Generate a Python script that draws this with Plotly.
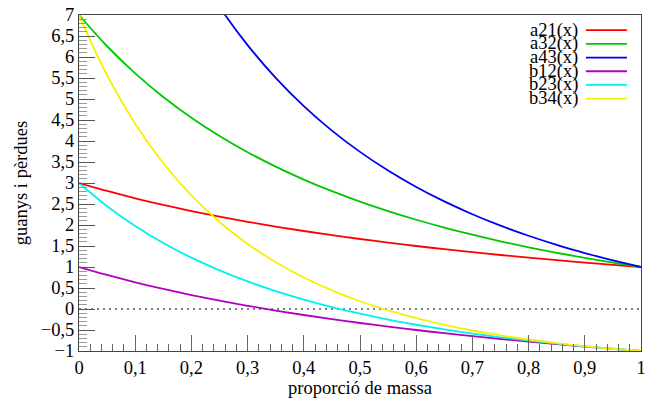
import plotly.graph_objects as go

# x values (proporció de massa)
x_vals = [0, 0.05, 0.1, 0.15, 0.2, 0.25, 0.3, 0.35, 0.4, 0.45, 0.5,
          0.55, 0.6, 0.65, 0.7, 0.75, 0.8, 0.85, 0.9, 0.95, 1]

a21 = [3.0, 2.81, 2.636, 2.478, 2.333, 2.2, 2.077, 1.963, 1.857, 1.759, 1.667,
       1.581, 1.5, 1.424, 1.353, 1.286, 1.222, 1.162, 1.105, 1.051, 1.0]
a32 = [7.0, 6.256, 5.612, 5.049, 4.556, 4.12, 3.734, 3.39, 3.082, 2.805, 2.556,
       2.33, 2.125, 1.939, 1.768, 1.612, 1.469, 1.338, 1.216, 1.104, 1.0]
a43 = [15.0, 12.82, 11.02, 9.52, 8.259, 7.192, 6.283, 5.503, 4.831, 4.248, 3.741,
       3.297, 2.906, 2.562, 2.257, 1.985, 1.744, 1.527, 1.333, 1.158, 1.0]
b12 = [1.0, 0.81, 0.636, 0.478, 0.333, 0.2, 0.077, -0.037, -0.143, -0.241, -0.333,
       -0.419, -0.5, -0.576, -0.647, -0.714, -0.778, -0.838, -0.895, -0.949, -1.0]
b23 = [3.0, 2.447, 1.975, 1.571, 1.222, 0.92, 0.657, 0.427, 0.225, 0.046, -0.111,
       -0.251, -0.375, -0.486, -0.585, -0.674, -0.753, -0.825, -0.889, -0.947, -1.0]
b34 = [7.0, 5.565, 4.41, 3.471, 2.704, 2.072, 1.549, 1.114, 0.749, 0.443, 0.185,
       -0.033, -0.219, -0.377, -0.512, -0.627, -0.726, -0.811, -0.883, -0.946, -1.0]

series_names = ["a21(x)", "a32(x)", "a43(x)", "b12(x)", "b23(x)", "b34(x)"]
series_values = [a21, a32, a43, b12, b23, b34]
series_colors = ["#ff0000", "#00c800", "#0000f0", "#b000c0", "#00f0f0", "#f8f000"]

y_tickvals = [-1, -0.5, 0, 0.5, 1, 1.5, 2, 2.5, 3, 3.5, 4, 4.5, 5, 5.5, 6, 6.5, 7]
y_ticktext = ["\u22121", "\u22120,5", "0", "0,5", "1", "1,5", "2", "2,5", "3", "3,5",
              "4", "4,5", "5", "5,5", "6", "6,5", "7"]
x_tickvals = [0, 0.1, 0.2, 0.3, 0.4, 0.5, 0.6, 0.7, 0.8, 0.9, 1]
x_ticktext = ["0", "0,1", "0,2", "0,3", "0,4", "0,5", "0,6", "0,7", "0,8", "0,9", "1"]

FONT = "Liberation Serif, Times New Roman, serif"
FS = 18.5

fig = go.Figure()
for name, vals, col in zip(series_names, series_values, series_colors):
    fig.add_trace(go.Scatter(x=x_vals, y=vals, mode="lines", name=name,
                             line=dict(color=col, width=1.8, shape="spline", smoothing=1.0),
                             showlegend=False, cliponaxis=True))

# zero reference line
fig.add_shape(type="line", xref="x", yref="y", x0=0, x1=1, y0=0, y1=0,
              line=dict(color="black", width=1, dash="2px,4px"), layer="below")

# manual legend (compact like the original)
leg_top = 0.955
leg_step = 0.0408
for i, (name, col) in enumerate(zip(series_names, series_colors)):
    yy = leg_top - i * leg_step
    fig.add_annotation(xref="paper", yref="paper", x=0.892, y=yy, text=name,
                       showarrow=False, xanchor="right", yanchor="middle",
                       font=dict(family=FONT, size=FS, color="black"))
    fig.add_shape(type="line", xref="paper", yref="paper", x0=0.902, x1=0.975,
                  y0=yy, y1=yy, line=dict(color=col, width=1.8))

fig.update_layout(
    width=651, height=398,
    margin=dict(l=79, r=5, t=15, b=44),
    paper_bgcolor="white", plot_bgcolor="white",
    font=dict(family=FONT, size=FS, color="black"),
    showlegend=False,
)
fig.update_xaxes(range=[0, 1], tickvals=x_tickvals, ticktext=x_ticktext,
                 ticks="inside", ticklen=16, tickcolor="#666", tickwidth=1,
                 minor=dict(dtick=0.02, ticks="inside", ticklen=7, tickcolor="#666", tickwidth=1),
                 showline=True, linecolor="#444", linewidth=1, mirror=True,
                 showgrid=False, zeroline=False,
                 title=dict(text="proporció de massa", standoff=2,
                            font=dict(family=FONT, size=FS)),
                 tickfont=dict(family=FONT, size=FS))
fig.update_yaxes(range=[-1, 7], tickvals=y_tickvals, ticktext=y_ticktext,
                 ticks="inside", ticklen=16, tickcolor="#555", tickwidth=1,
                 minor=dict(dtick=0.1, ticks="inside", ticklen=8, tickcolor="#999", tickwidth=1),
                 showline=True, linecolor="#444", linewidth=1, mirror=True,
                 showgrid=False, zeroline=False,
                 title=dict(text="guanys i pèrdues", standoff=8,
                            font=dict(family=FONT, size=FS)),
                 tickfont=dict(family=FONT, size=FS))

fig.write_html("out.html", config={"displayModeBar": False},
               post_script="document.body.style.margin='0';document.body.style.padding='0';")
